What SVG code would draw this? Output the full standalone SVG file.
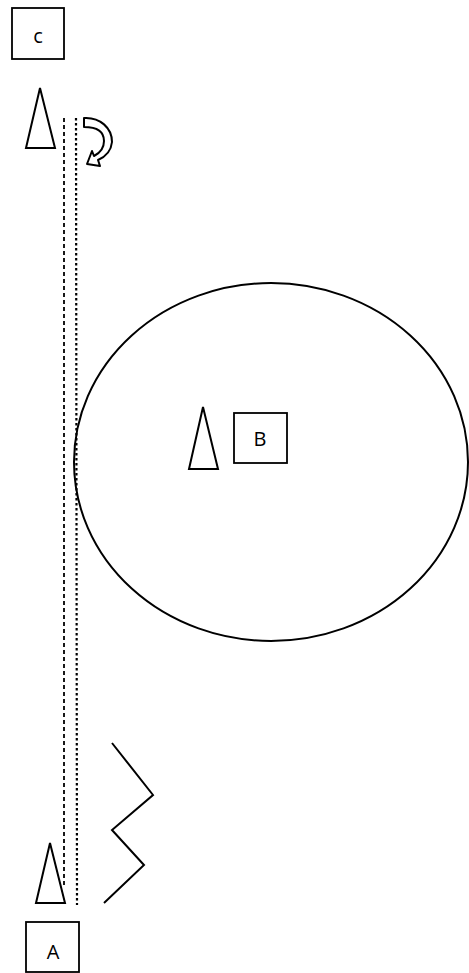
<svg xmlns="http://www.w3.org/2000/svg" width="469" height="973" viewBox="0 0 469 973">
<style>
.box{fill:#fff;stroke:#000;stroke-width:1.8}
.tri{fill:#fff;stroke:#000;stroke-width:2;stroke-linejoin:miter}
.lbl{font-family:"Open Sans","DejaVu Sans",sans-serif;font-size:20px;fill:#000;text-anchor:middle}
.ln{fill:none;stroke:#000}
</style>
<rect width="469" height="973" fill="#fff"/>
<g id="circle"><ellipse cx="271" cy="462" rx="197" ry="179" class="ln" stroke-width="2"/></g>
<g id="connectors">
<line x1="64" y1="118" x2="64" y2="887" class="ln" stroke-width="1.8" stroke-dasharray="4 3"/>
<line x1="76" y1="118" x2="77" y2="905" class="ln" stroke-width="2.2" stroke-dasharray="2.5 2.5"/>
<polyline points="112,743 153,795 112,830 144,865 104,903" class="ln" stroke-width="2"/>
<path d="M84,118 C100,117 112,128 112,142 C111,152 105,157 98,160 L100,166 L87,164 L92,151 L94,156 C100,153 104,148 104,141 C104,132 97,127 84,127 Z" fill="#fff" stroke="#000" stroke-width="2" stroke-linejoin="round"/>
</g>
<g id="C"><rect x="12" y="8" width="52" height="51" class="box"/><text x="38" y="43" class="lbl">c</text></g>
<g id="triC"><polygon points="40,88 26,148 55,148" class="tri"/></g>
<g id="B"><rect x="234" y="413" width="53" height="50" class="box"/><text x="260" y="446" class="lbl">B</text></g>
<g id="triB"><polygon points="203,407 189,469 218,469" class="tri"/></g>
<g id="triA"><polygon points="50,843 36,903 65,903" class="tri"/></g>
<g id="A"><rect x="26" y="922" width="53" height="50" class="box"/><text x="53" y="959" class="lbl">A</text></g>
</svg>
